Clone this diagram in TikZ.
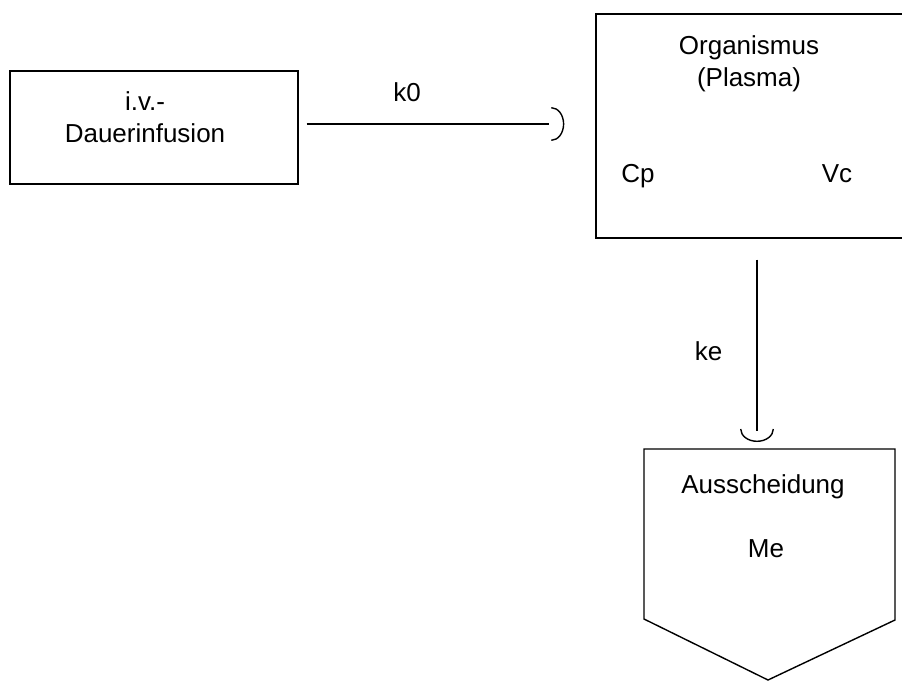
\documentclass[tikz,border=0pt]{standalone}
\usepackage{fontspec}
\setmainfont{Liberation Sans}
\usetikzlibrary{arrows.meta}
\usetikzlibrary{positioning}
\tikzset{
    boxn/.style = {rectangle, line width=1.4pt, draw=black, fill=none, inner sep=0pt},
    labn/.style = {align=center, anchor=base, inner sep=0pt, font=\fontsize{26}{31.5}\selectfont, text=black},
    edgea/.style = {line width=1.4pt, black, -, shorten >=#1},
    tipa/.style = {line width=1.4pt, black, -{Arc Barb[length=13pt,width=34pt]}},
}
\begin{document}
\begin{tikzpicture}[x=1pt,y=-1pt]
\useasboundingbox (0,0) rectangle (902,680);
\node[boxn, minimum width=288pt, minimum height=113pt] at (154,127.5) (inf) {};
\node[boxn, minimum width=308pt, minimum height=224pt] at (750,126) (org) {};
\coordinate (a1) at (644,449);
\coordinate (a2) at (895,449);
\coordinate (a3) at (895,620);
\coordinate (a4) at (768,680);
\coordinate (a5) at (644,619);
\coordinate (aus) at (757,449);
\draw[line width=1.4pt] (a1) -- (a2) -- (a3) -- (a4) -- (a5) -- cycle;

\node[labn] at (145,142) (infl) {i.v.-\\Dauerinfusion};
\node[labn] at (749,86) (orgl) {Organismus\\(Plasma)};
\node[labn] at (638,182) (cp) {Cp};
\node[labn] at (837,182) (vc) {Vc};
\node[labn] at (763,493) (ausl) {Ausscheidung};
\node[labn] at (766,557) (me) {Me};

% free ends of the two connectors
\coordinate (t1) at ([xshift=-31pt,yshift=2pt]org.west);
\coordinate (t2) at ([yshift=7pt]aus);

\draw[edgea=15pt] ([xshift=8pt,yshift=3.5pt]inf.east) -- node[labn, pos=0.39, above=22pt] (k0) {k0} (t1);
\draw[tipa] ([xshift=-1pt]t1) -- (t1);
\draw[edgea=11pt] ([xshift=7pt,yshift=-21pt]org.south) -- node[labn, left=34pt] (ke) {ke} (t2);
\draw[tipa] ([yshift=1pt]t2) -- (t2);
\end{tikzpicture}
\end{document}
